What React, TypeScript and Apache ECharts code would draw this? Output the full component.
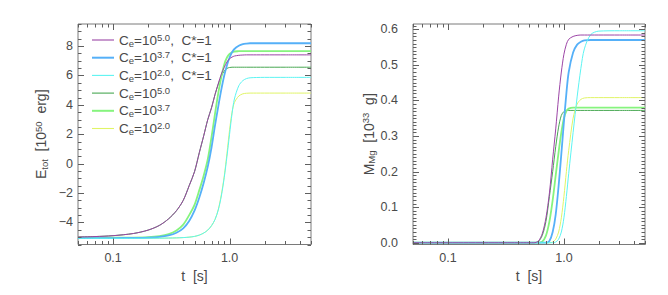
import React, { useEffect, useRef } from "react";
import * as echarts from "echarts";

// time grid [s]
const T = [0.05, 0.07, 0.1, 0.15, 0.2, 0.25, 0.3, 0.35, 0.4, 0.45, 0.5, 0.55, 0.6, 0.65, 0.7, 0.75, 0.8, 0.85, 0.9, 0.95, 1.0, 1.05, 1.1, 1.2, 1.3, 1.4, 1.5, 1.7, 2.0, 3.0, 5.0];

const SERIES_NAMES = ["Ce=10^5.0, C*=1", "Ce=10^3.7, C*=1", "Ce=10^2.0, C*=1", "Ce=10^5.0", "Ce=10^3.7", "Ce=10^2.0"];
const COLORS = ["#9c45a6", "#55b0f8", "#5cf4f2", "#48a852", "#86f47e", "#e0f466"];
const WIDTHS = [1, 1.8, 1, 1, 1.8, 1];
const ZS = [4, 3, 3, 2, 2, 2];

// E_tot [10^50 erg]
const E_CE50_CS = [-4.99, -4.96, -4.9, -4.75, -4.52, -4.2, -3.75, -3.2, -2.5, -1.5, -0.55, 0.75, 1.9, 3.0, 3.8, 4.7, 5.45, 6.1, 6.55, 6.92, 7.14, 7.25, 7.32, 7.37, 7.39, 7.4, 7.4, 7.4, 7.4, 7.4, 7.4];
const E_CE37_CS = [-5.07, -5.07, -5.06, -5.05, -5.03, -4.98, -4.88, -4.7, -4.4, -3.9, -3.2, -2.3, -1.3, -0.2, 1.1, 2.6, 3.9, 5.05, 6.0, 6.7, 7.22, 7.58, 7.8, 8.02, 8.13, 8.17, 8.19, 8.19, 8.19, 8.19, 8.19];
const E_CE20_CS = [-5.08, -5.08, -5.08, -5.08, -5.07, -5.07, -5.06, -5.05, -5.03, -5.0, -4.95, -4.86, -4.72, -4.52, -4.22, -3.8, -3.15, -2.2, -0.95, 0.5, 2.0, 3.4, 4.4, 5.3, 5.65, 5.79, 5.84, 5.86, 5.87, 5.87, 5.87];
const E_CE50 = [-4.99, -4.96, -4.9, -4.75, -4.52, -4.2, -3.75, -3.2, -2.5, -1.5, -0.55, 0.75, 1.9, 3.0, 3.8, 4.7, 5.4, 5.95, 6.3, 6.48, 6.54, 6.56, 6.56, 6.56, 6.56, 6.56, 6.56, 6.56, 6.56, 6.56, 6.56];
const E_CE37 = [-5.05, -5.05, -5.04, -5.03, -5.0, -4.93, -4.8, -4.55, -4.15, -3.5, -2.8, -1.8, -0.8, 0.3, 1.8, 3.4, 4.8, 5.9, 6.75, 7.22, 7.47, 7.58, 7.63, 7.65, 7.66, 7.66, 7.66, 7.66, 7.66, 7.66, 7.66];
const E_CE20 = [-5.08, -5.08, -5.08, -5.08, -5.07, -5.07, -5.06, -5.05, -5.03, -5.0, -4.95, -4.86, -4.72, -4.52, -4.22, -3.8, -3.12, -2.1, -0.85, 0.7, 2.3, 3.5, 4.15, 4.6, 4.75, 4.79, 4.8, 4.8, 4.8, 4.8, 4.8];

// M_Mg [10^33 g]
const M_CE50_CS = [0, 0, 0, 0, 0, 0, 0, 0, 0, 0, 0, 0, 0.004, 0.025, 0.07, 0.14, 0.235, 0.32, 0.41, 0.48, 0.53, 0.558, 0.572, 0.58, 0.583, 0.584, 0.584, 0.584, 0.584, 0.584, 0.584];
const M_CE37_CS = [0, 0, 0, 0, 0, 0, 0, 0, 0, 0, 0, 0, 0, 0, 0, 0.005, 0.03, 0.08, 0.16, 0.25, 0.34, 0.42, 0.48, 0.535, 0.557, 0.565, 0.569, 0.57, 0.57, 0.57, 0.57];
const M_CE20_CS = [0, 0, 0, 0, 0, 0, 0, 0, 0, 0, 0, 0, 0, 0, 0, 0, 0, 0.002, 0.01, 0.03, 0.07, 0.13, 0.195, 0.31, 0.41, 0.49, 0.545, 0.585, 0.595, 0.596, 0.596];
const M_CE50 = [0, 0, 0, 0, 0, 0, 0, 0, 0, 0, 0, 0, 0.003, 0.02, 0.06, 0.13, 0.2, 0.27, 0.325, 0.358, 0.369, 0.372, 0.372, 0.372, 0.372, 0.372, 0.372, 0.372, 0.372, 0.372, 0.372];
const M_CE37 = [0, 0, 0, 0, 0, 0, 0, 0, 0, 0, 0, 0, 0, 0.003, 0.02, 0.06, 0.12, 0.19, 0.255, 0.31, 0.35, 0.37, 0.377, 0.38, 0.38, 0.38, 0.38, 0.38, 0.38, 0.38, 0.38];
const M_CE20 = [0, 0, 0, 0, 0, 0, 0, 0, 0, 0, 0, 0, 0, 0, 0, 0, 0.002, 0.01, 0.03, 0.07, 0.13, 0.2, 0.26, 0.35, 0.39, 0.403, 0.407, 0.408, 0.408, 0.408, 0.408];

const E_SERIES = [E_CE50_CS, E_CE37_CS, E_CE20_CS, E_CE50, E_CE37, E_CE20];
const M_SERIES = [M_CE50_CS, M_CE37_CS, M_CE20_CS, M_CE50, M_CE37, M_CE20];

// axis ranges
const T_RANGE = [0.05, 5];
const E_RANGE = [-5.5, 9.5];
const M_RANGE = [-0.005, 0.615];

// tick labels / tick marks
const T_LABELS = [0.1, 1.0];
const T_MINOR = [0.05, 0.06, 0.07, 0.08, 0.09, 0.2, 0.3, 0.4, 0.5, 0.6, 0.7, 0.8, 0.9, 2, 3, 4, 5];
const E_LABELS = [-4, -2, 0, 2, 4, 6, 8];
const E_MINOR = [-5.5, -5, -4.5, -3.5, -3, -2.5, -1.5, -1, -0.5, 0.5, 1, 1.5, 2.5, 3, 3.5, 4.5, 5, 5.5, 6.5, 7, 7.5, 8.5, 9, 9.5];
const M_LABELS = [0.0, 0.1, 0.2, 0.3, 0.4, 0.5, 0.6];
const M_MINOR: number[] = [];
for (let k = 1; k <= 61; k++) if (k % 10 !== 0) M_MINOR.push(k / 100);

const FONT = "'Liberation Sans', Arial, sans-serif";
const TXT = "#4a4a4a";
const FRAME = "#7a7a7a";
const TICK = "#5f5f5f";

const near = (a: number, b: number) => Math.abs(a - b) < 1e-6;

function legendLabel(name: string): string {
  const m = name.match(/^Ce=10\^([\d.]+)(.*)$/);
  if (!m) return name;
  return `C{sub|e}=10{sup|${m[1]}}${m[2].replace(", ", ",  ")}`;
}

const RICH = {
  sub: { fontSize: 9.5, fontFamily: FONT, color: TXT, verticalAlign: "bottom", lineHeight: 10 },
  sup: { fontSize: 9.5, fontFamily: FONT, color: TXT, verticalAlign: "top", lineHeight: 10 },
};

// each row: [x, y, kind (0 = t tick, 1 = value tick), length]
function tickData(xTicks: number[], xMinor: number[], yTicks: number[], yMinor: number[], yMid: number) {
  const data: number[][] = [];
  xTicks.forEach((t) => data.push([t, yMid, 0, 6]));
  xMinor.forEach((t) => data.push([t, yMid, 0, 3.5]));
  yTicks.forEach((v) => data.push([1, v, 1, 6]));
  yMinor.forEach((v) => data.push([1, v, 1, 3.5]));
  return data;
}

function tickSeries(idx: number, data: number[][], yRange: number[]) {
  return {
    type: "custom",
    coordinateSystem: "cartesian2d",
    xAxisIndex: idx,
    yAxisIndex: idx,
    silent: true,
    clip: false,
    z: 6,
    encode: { x: 0, y: 1 },
    data,
    renderItem: (params: any, api: any) => {
      const row = data[params.dataIndex];
      const len = row[3];
      const st = { stroke: TICK, lineWidth: 1, fill: "none" };
      if (row[2] === 0) {
        const pB = api.coord([row[0], yRange[0]]);
        const pT = api.coord([row[0], yRange[1]]);
        const x = Math.round(pB[0]) + 0.5;
        return {
          type: "group",
          children: [
            { type: "line", shape: { x1: x, y1: pB[1], x2: x, y2: pB[1] - len }, style: st },
            { type: "line", shape: { x1: x, y1: pT[1], x2: x, y2: pT[1] + len }, style: st },
          ],
        };
      }
      const pL = api.coord([T_RANGE[0], row[1]]);
      const pR = api.coord([T_RANGE[1], row[1]]);
      const y = Math.round(pL[1]) + 0.5;
      return {
        type: "group",
        children: [
          { type: "line", shape: { x1: pL[0], y1: y, x2: pL[0] + len, y2: y }, style: st },
          { type: "line", shape: { x1: pR[0], y1: y, x2: pR[0] - len, y2: y }, style: st },
        ],
      };
    },
  };
}

function xAxisCfg(gridIndex: number) {
  return {
    type: "log",
    logBase: 10,
    gridIndex,
    min: T_RANGE[0],
    max: T_RANGE[1],
    axisLine: { show: false },
    axisTick: { show: false },
    splitLine: { show: false },
    minorTick: { show: false },
    minorSplitLine: { show: false },
    axisLabel: {
      color: TXT,
      fontSize: 12.5,
      fontFamily: FONT,
      margin: 7,
      showMinLabel: false,
      showMaxLabel: false,
      formatter: (v: number) => (T_LABELS.some((t) => Math.abs(v - t) < 1e-6 * Math.max(1, t)) ? v.toFixed(1) : ""),
    },
    name: "t  [s]",
    nameLocation: "middle",
    nameGap: 24,
    nameTextStyle: { color: TXT, fontSize: 14, fontFamily: FONT },
  };
}

export default function App() {
  const ref = useRef<HTMLDivElement>(null);
  useEffect(() => {
    if (!ref.current) return;
    const chart = echarts.init(ref.current, undefined, { renderer: "svg" });
    const lineSeries: any[] = [];
    SERIES_NAMES.forEach((name, i) => {
      lineSeries.push({
        type: "line",
        name,
        xAxisIndex: 0,
        yAxisIndex: 0,
        data: T.map((t, k) => [t, E_SERIES[i][k]]),
        symbol: "none",
        smooth: 0.3,
        lineStyle: { color: COLORS[i], width: WIDTHS[i] },
        itemStyle: { color: COLORS[i] },
        z: ZS[i],
      });
    });
    SERIES_NAMES.forEach((name, i) => {
      lineSeries.push({
        type: "line",
        name,
        xAxisIndex: 1,
        yAxisIndex: 1,
        data: T.map((t, k) => [t, M_SERIES[i][k]]),
        symbol: "none",
        smooth: 0.3,
        lineStyle: { color: COLORS[i], width: WIDTHS[i] },
        itemStyle: { color: COLORS[i] },
        z: ZS[i],
      });
    });

    chart.setOption({
      animation: false,
      backgroundColor: "#ffffff",
      grid: [
        { left: 78, top: 24, width: 233, height: 220.5, show: true, borderColor: FRAME, borderWidth: 1, backgroundColor: "transparent" },
        { left: 413, top: 24, width: 232, height: 220.5, show: true, borderColor: FRAME, borderWidth: 1, backgroundColor: "transparent" },
      ],
      legend: {
        data: SERIES_NAMES.map((name, i) => ({
          name,
          icon: WIDTHS[i] > 1.5 ? "path://M0,0H22V2H0Z" : "path://M0,0H22V1.1H0Z",
          itemStyle: { color: COLORS[i], borderWidth: 0 },
        })),
        orient: "vertical",
        left: 92,
        top: 32,
        padding: 0,
        itemWidth: 22,
        itemHeight: 14,
        itemGap: 1.7,
        selectedMode: false,
        itemStyle: { borderWidth: 0 },
        formatter: legendLabel,
        textStyle: { color: TXT, fontSize: 13.5, fontFamily: FONT, lineHeight: 16, rich: RICH },
      },
      xAxis: [xAxisCfg(0), xAxisCfg(1)],
      yAxis: [
        {
          type: "value",
          gridIndex: 0,
          min: E_RANGE[0],
          max: E_RANGE[1],
          interval: 0.5,
          axisLine: { show: false },
          axisTick: { show: false },
          splitLine: { show: false },
          axisLabel: {
            interval: 0,
            color: TXT,
            fontSize: 12.5,
            fontFamily: FONT,
            margin: 5,
            formatter: (v: number) => {
              const hit = E_LABELS.find((e) => near(e, v));
              if (hit === undefined) return "";
              return hit < 0 ? "\u2212" + Math.abs(hit) : String(hit);
            },
          },
          name: "E{sub|tot}  [10{sup|50}  erg]",
          nameLocation: "middle",
          nameGap: 29,
          nameTextStyle: { color: TXT, fontSize: 14, fontFamily: FONT, lineHeight: 16, rich: RICH },
        },
        {
          type: "value",
          gridIndex: 1,
          min: M_RANGE[0],
          max: M_RANGE[1],
          interval: 0.005,
          axisLine: { show: false },
          axisTick: { show: false },
          splitLine: { show: false },
          axisLabel: {
            interval: 0,
            color: TXT,
            fontSize: 12.5,
            fontFamily: FONT,
            margin: 15,
            formatter: (v: number) => {
              const hit = M_LABELS.find((e) => near(e, v));
              return hit === undefined ? "" : hit.toFixed(1);
            },
          },
          name: "M{sub|Mg}  [10{sup|33}  g]",
          nameLocation: "middle",
          nameGap: 31,
          nameTextStyle: { color: TXT, fontSize: 14, fontFamily: FONT, lineHeight: 16, rich: RICH },
        },
      ],
      series: [
        ...lineSeries,
        tickSeries(0, tickData(T_LABELS, T_MINOR, E_LABELS, E_MINOR, 0), E_RANGE),
        tickSeries(1, tickData(T_LABELS, T_MINOR, M_LABELS, M_MINOR, 0.3), M_RANGE),
      ],
    });
    return () => chart.dispose();
  }, []);
  return <div ref={ref} style={{ position: "fixed", left: 0, top: 0, width: 668, height: 295 }} />;
}
